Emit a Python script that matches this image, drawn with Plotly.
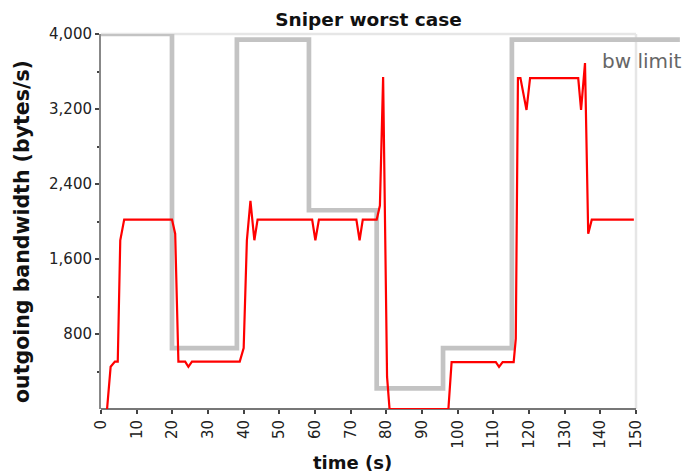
import plotly.graph_objects as go

title_text = "Sniper worst case"
x_title = "time (s)"
y_title = "outgoing bandwidth (bytes/s)"
limit_label = "bw limit"

# outgoing bandwidth (red)
time_s = [1.7, 2.7, 3.9, 4.7, 5.4, 6.5, 19.9, 20.8, 21.7, 23.6, 24.5, 25.5,
          38.9, 40.0, 40.9, 41.9, 43.0, 43.9, 59.2, 60.1, 61.1, 71.6, 72.5,
          73.4, 77.3, 78.2, 79.1, 80.2, 80.9, 97.4, 98.3, 110.7, 111.6, 112.6,
          115.7, 116.3, 116.9, 117.6, 119.3, 120.3, 133.8, 134.6, 135.7,
          136.6, 137.6, 149.4]
bandwidth = [0, 450, 505, 505, 1800, 2020, 2020, 1870, 505, 505, 450, 505,
             505, 650, 1800, 2220, 1800, 2020, 2020, 1800, 2020, 2020, 1800,
             2020, 2020, 2170, 3540, 345, 0, 0, 500, 500, 450, 500,
             500, 750, 3530, 3530, 3190, 3530, 3530, 3190, 3690,
             1870, 2020, 2020]

# bandwidth limit (grey step line)
limit_time = [0, 19.9, 38.1, 58.3, 77.3, 95.9, 115.2, 162.3]
limit_bw = [4000, 650, 3940, 2120, 220, 650, 3940, 3940]

x_ticks = list(range(0, 151, 10))
y_ticks = [800, 1600, 2400, 3200, 4000]
y_minor = [400, 1200, 2000, 2800, 3600]
x_max = 150
y_max = 4000

W, H = 686, 474
ml, mr, mt, mb = 101, 6, 34, 65
plot_w = W - ml - mr
plot_h = H - mt - mb
main_w = 535          # pixel width of the framed 0..150 area
x_view_max = x_max * plot_w / main_w

font = "DejaVu Sans"

fig = go.Figure()
fig.add_trace(go.Scatter(
    x=limit_time, y=limit_bw, mode="lines", line_shape="hv",
    line=dict(color="#c3c3c3", width=4.7),
    showlegend=False, hoverinfo="skip"))
fig.add_trace(go.Scatter(
    x=time_s, y=bandwidth, mode="lines",
    line=dict(color="#ff0000", width=2.2),
    showlegend=False))

fig.update_layout(
    width=W, height=H,
    margin=dict(l=ml, r=mr, t=mt, b=mb, pad=0),
    plot_bgcolor="white", paper_bgcolor="white",
    font=dict(family=font, color="#222"),
    title=dict(text=title_text, x=(ml + main_w / 2) / W, xref="container",
               xanchor="center", y=1 - 20 / H, yref="container", yanchor="middle",
               font=dict(family=font, size=18.5, color="#111", weight="bold")),
    xaxis=dict(range=[0, x_view_max], tickvals=x_ticks,
               ticktext=[str(v) for v in x_ticks], tickangle=-90,
               ticks="outside", ticklen=4, tickwidth=1.5, tickcolor="#444",
               showline=False, showgrid=False, zeroline=False,
               tickfont=dict(family=font, size=15, color="#222")),
    yaxis=dict(range=[0, y_max], tickvals=y_ticks,
               tickformat=",d", ticks="outside", ticklen=4, tickwidth=1.5,
               tickcolor="#444", showline=True, linecolor="#888", linewidth=2,
               showgrid=False, zeroline=False,
               tickfont=dict(family=font, size=15, color="#222"),
               minor=dict(tickvals=y_minor, ticks="outside",
                          ticklen=2, tickwidth=1.5, tickcolor="#444")),
    shapes=[
        # light frame on top and right of the 0..150 area
        dict(type="line", xref="x", yref="y domain", x0=0, x1=x_max, y0=1, y1=1,
             line=dict(color="#e6e6e6", width=2.5), layer="below"),
        dict(type="line", xref="x", yref="y domain", x0=x_max, x1=x_max, y0=0, y1=1,
             line=dict(color="#e6e6e6", width=2.5), layer="below"),
        # bottom axis line of the 0..150 area
        dict(type="line", xref="x", yref="y domain", x0=0, x1=x_max, y0=0, y1=0,
             line=dict(color="#777", width=2), layer="below"),
    ],
    annotations=[
        dict(text=limit_label, xref="x", yref="y", x=limit_time[-1], y=limit_bw[-1],
             xanchor="right", yanchor="middle", xshift=4, yshift=-21,
             showarrow=False, font=dict(family=font, size=20, color="#666")),
        dict(text=x_title, xref="paper", yref="paper",
             x=(352 - ml) / plot_w, y=-(463 - (H - mb)) / plot_h,
             xanchor="center", yanchor="middle", showarrow=False,
             font=dict(family=font, size=18, color="#111", weight="bold")),
        dict(text=y_title, xref="paper", yref="paper", textangle=-90,
             x=(22 - ml) / plot_w, y=1 - (232 - mt) / plot_h,
             xanchor="center", yanchor="middle", showarrow=False,
             font=dict(family=font, size=20.5, color="#111", weight="bold")),
    ],
)

fig.write_html("out.html", config={"displayModeBar": False},
               post_script="document.body.style.margin='0px';")
